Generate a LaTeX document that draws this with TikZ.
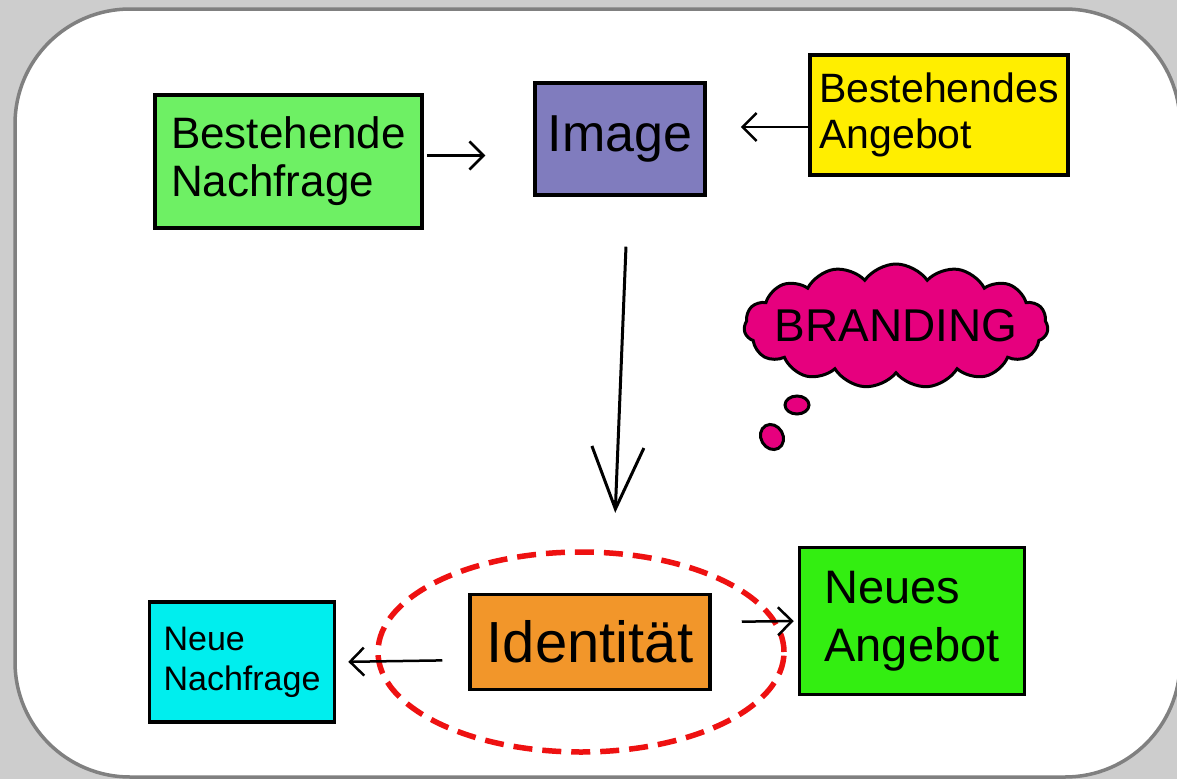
\documentclass[tikz,border=0pt]{standalone}
\usepackage{fontspec}
\setmainfont{Liberation Sans}
\usetikzlibrary{arrows.meta,shapes.geometric,shapes.symbols}
\definecolor{bggray}{HTML}{CDCDCD}
\definecolor{framegray}{HTML}{808080}
\definecolor{greenA}{HTML}{6EF064}
\definecolor{purpleA}{HTML}{807CBE}
\definecolor{yellowA}{HTML}{FFEE00}
\definecolor{magentaA}{HTML}{E6007E}
\definecolor{cyanA}{HTML}{00EEEE}
\definecolor{orangeA}{HTML}{F2962A}
\definecolor{greenB}{HTML}{33EE11}
\definecolor{redA}{HTML}{EE1111}
\tikzset{
  box/.style={draw=black, line width=3.5pt, rectangle, inner sep=0pt, align=left},
  arr/.style={draw=black, line width=2.5pt, -{Straight Barb[length=14pt,width=28pt,line width=2.5pt]}},
  bigarr/.style={draw=black, line width=3pt, -{Straight Barb[length=62pt,width=52pt,line width=3pt]}},
  bubble/.style={draw=black, line width=3pt, fill=magentaA, ellipse, inner sep=0pt}
}
\begin{document}
\begin{tikzpicture}[x=1pt,y=-1pt]
\useasboundingbox (0,0) rectangle (1177,779);
\fill[bggray] (0,0) rectangle (1177,779);
\draw[fill=white, draw=framegray, line width=3.5pt, rounded corners=115pt] (15,9) rectangle (1180,777);

% boxes
\node[box, fill=greenA, minimum width=267pt, minimum height=133pt, font=\fontsize{44}{48}\selectfont] (bn) at (288.5,161.5) {Bestehende\\Nachfrage};
\node[box, fill=purpleA, minimum width=170pt, minimum height=112pt, font=\fontsize{52}{56}\selectfont] (img) at (620,139) {Image};
\node[box, fill=yellowA, minimum width=258pt, minimum height=120pt, font=\fontsize{41}{46}\selectfont] (ba) at (939,115) {Bestehendes\\Angebot};
\node[box, fill=cyanA, minimum width=185pt, minimum height=120pt, font=\fontsize{34}{40}\selectfont] (nn) at (242,662) {Neue\\Nachfrage};
\node[box, fill=orangeA, minimum width=240pt, minimum height=95pt, font=\fontsize{58}{60}\selectfont] (id) at (590,642) {Identität};
\node[box, fill=greenB, minimum width=225pt, minimum height=147pt, font=\fontsize{47}{58}\selectfont] (na) at (912,621) {Neues\\Angebot};

% cloud
\node[cloud, cloud puffs=15, cloud puff arc=110, aspect=2.6, draw=black, line width=3pt, fill=magentaA,
      minimum width=304pt, minimum height=124pt, inner sep=0pt,
      label={[font=\fontsize{46}{48}\selectfont]center:BRANDING}] (brand) at (896,326) {};
\node[bubble, minimum width=24pt, minimum height=18pt] (b1) at (797,405) {};
\node[bubble, minimum width=22pt, minimum height=26pt, rotate=30] (b2) at (772,437) {};

% ring
\node[draw=redA, line width=5.5pt, dash pattern=on 19pt off 10pt, ellipse, minimum width=406pt, minimum height=200pt] (ring) at (581,652) {};

% connectors
\draw[arr, shorten <=3pt, shorten >=48pt] ([yshift=6pt]bn.east) -- ([yshift=6pt]bn.east -| img.west);
\draw[arr, shorten >=34pt] ([yshift=-12pt]ba.west) -- ([yshift=-12pt]ba.west -| img.east);
\draw[bigarr, shorten <=50pt, shorten >=80pt] ([xshift=8pt]img.south) -- ([xshift=22pt]id.north);
\draw[arr, shorten <=26pt, shorten >=12pt] ([yshift=-18pt]id.west) -- (nn.east);
\draw[arr, shorten <=30pt, shorten >=4pt] ([yshift=20pt]id.east) -- (na.west);
\end{tikzpicture}
\end{document}
